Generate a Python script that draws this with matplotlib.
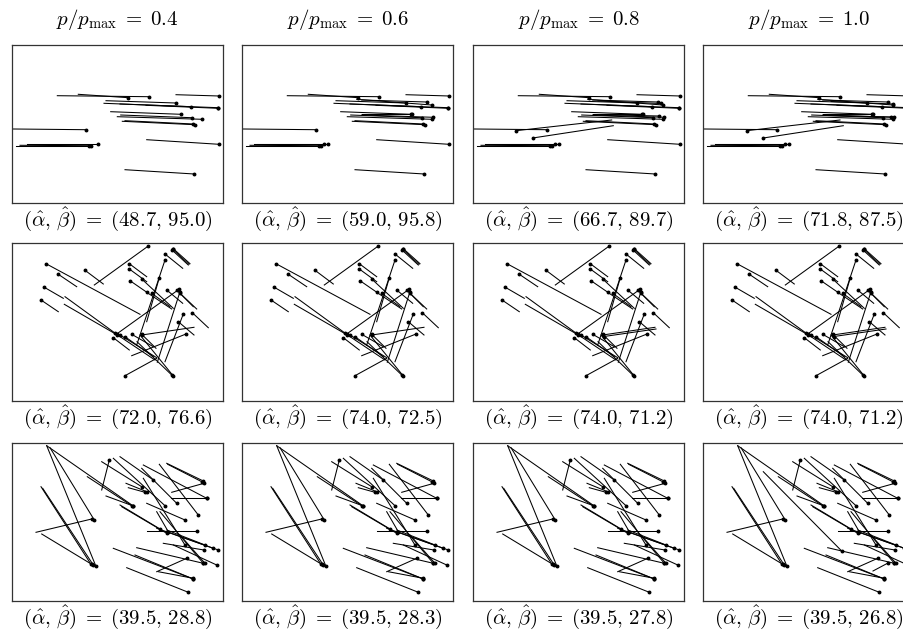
"""
Grid of trajectory panels: segment start -> end (dot), per pressure level
"""

import matplotlib
matplotlib.use('Agg')
import matplotlib.pyplot as plt

plt.rcParams['mathtext.fontset'] = 'cm'

p_levels = ['0.4', '0.6', '0.8', '1.0']

# (x0, y0, x1, y1) in panel pixel units, end point carries the dot
row1_base = [
    (45.3, 50.7, 137.0, 51.7), (66.3, 49.3, 116.3, 52.7), (164.0, 49.7, 207.3, 51.0),
    (94.0, 55.7, 164.0, 58.0), (92.0, 58.3, 179.0, 61.7), (108.0, 59.0, 206.3, 62.7),
    (134.0, 60.3, 206.3, 63.3), (98.7, 66.7, 169.0, 69.3), (108.7, 70.0, 179.7, 72.7),
    (105.3, 71.7, 190.3, 74.3), (110.3, 76.3, 183.0, 79.7), (113.0, 75.7, 181.3, 79.0),
    (1.3, 84.0, 74.0, 84.7), (14.7, 99.0, 85.7, 99.0), (3.7, 101.0, 77.3, 101.0),
    (8.0, 100.3, 78.7, 100.7), (134.7, 94.7, 207.0, 99.3), (113.0, 124.7, 182.3, 129.0),
]
row1_extra_06 = [
    (119.7, 55.0, 184.7, 57.0), (114.7, 54.3, 189.7, 60.0), (119.7, 69.0, 169.7, 69.0),
    (119.7, 70.0, 191.3, 72.3), (12.0, 99.5, 82.3, 99.5),
]
row1_extra_08 = [
    (125.0, 56.0, 188.0, 58.5), (122.0, 69.5, 186.0, 71.0),
    (138.7, 75.0, 43.0, 85.7), (140.3, 80.7, 59.7, 93.0),
]
row1_extra_10 = [
    (128.0, 56.5, 190.0, 59.0), (125.0, 70.5, 188.0, 72.0),
    (137.0, 75.0, 43.7, 85.7), (140.3, 80.7, 60.3, 93.0),
]

row2_base = [
    (128.0, 71.3, 34.0, 20.7), (64.7, 43.7, 46.3, 31.3), (91.3, 41.0, 73.0, 27.3),
    (82.3, 42.0, 136.3, 3.0), (134.7, 33.7, 117.3, 20.7), (170.7, 25.3, 153.0, 11.0),
    (176.3, 22.0, 160.0, 7.0), (178.0, 20.7, 161.3, 5.7), (177.0, 21.3, 160.7, 6.3),
    (134.7, 38.7, 117.3, 26.0), (136.3, 50.3, 118.0, 37.7), (161.3, 65.3, 129.7, 36.0),
    (159.7, 66.0, 134.7, 49.3), (158.0, 63.7, 139.7, 50.3), (51.3, 55.3, 32.3, 44.3),
    (46.3, 68.7, 29.0, 57.0), (53.0, 53.7, 104.7, 91.3), (52.3, 61.3, 105.3, 92.0),
    (104.7, 91.0, 167.0, 46.3), (124.7, 102.0, 153.0, 17.0), (134.7, 78.7, 147.3, 34.7),
    (145.3, 119.3, 168.0, 48.7), (153.0, 118.7, 171.3, 71.0), (144.7, 115.3, 113.0, 132.7),
    (143.0, 117.0, 103.0, 90.3), (144.7, 114.7, 108.0, 92.0), (141.3, 113.7, 113.0, 93.7),
    (128.0, 92.0, 161.3, 133.0), (125.0, 98.7, 159.7, 132.0), (182.0, 84.3, 129.7, 92.0),
    (119.7, 112.7, 174.0, 91.0), (182.0, 92.0, 166.3, 78.7), (196.3, 84.7, 180.3, 69.7),
    (170.7, 60.3, 154.7, 47.0), (184.7, 66.0, 168.0, 50.3), (181.3, 63.7, 164.7, 47.0),
    (117.3, 107.0, 101.3, 94.7), (144.0, 105.3, 129.7, 91.3), (141.3, 103.7, 119.7, 91.3),
]
row2_extra = [(183.0, 86.0, 131.0, 93.5)]

row3_base = [
    (34.7, 2.7, 83.7, 122.7), (38.0, 4.7, 82.3, 77.0), (34.7, 2.7, 121.3, 63.0),
    (75.3, 33.7, 119.7, 62.7), (29.0, 43.7, 79.0, 121.3), (30.7, 45.3, 81.3, 122.0),
    (24.0, 89.3, 79.7, 76.0), (29.7, 91.0, 79.7, 121.3), (89.7, 47.0, 97.3, 17.0),
    (89.7, 18.7, 129.7, 43.7), (101.3, 15.3, 153.0, 62.7), (108.0, 13.7, 141.3, 37.0),
    (114.0, 40.3, 134.7, 48.7), (116.3, 44.7, 133.0, 49.3), (94.0, 53.0, 121.3, 63.0),
    (109.7, 63.7, 154.7, 90.3), (108.0, 62.0, 148.0, 86.0), (154.7, 20.3, 191.3, 38.0),
    (155.7, 21.3, 189.7, 38.7), (147.3, 21.3, 186.3, 72.0), (129.7, 25.3, 164.7, 60.3),
    (131.3, 22.0, 194.7, 55.3), (131.3, 35.3, 173.0, 102.0), (158.7, 55.3, 194.7, 55.3),
    (159.7, 49.3, 192.0, 40.3), (134.7, 60.3, 173.0, 77.0), (134.7, 88.0, 184.7, 88.0),
    (144.7, 68.7, 156.3, 88.7), (144.7, 85.3, 206.3, 107.0), (154.7, 88.7, 201.3, 105.3),
    (154.7, 87.0, 193.0, 102.0), (151.3, 100.3, 192.0, 107.0), (124.7, 104.7, 191.3, 120.3),
    (101.3, 105.3, 181.3, 136.0), (123.0, 112.0, 181.3, 136.0), (114.7, 124.7, 176.3, 149.3),
    (144.7, 128.7, 174.7, 115.3), (146.3, 128.7, 181.3, 135.3), (161.3, 102.0, 204.7, 122.0),
    (168.0, 92.0, 193.0, 120.3), (148.0, 68.7, 191.3, 120.3),
]
row3_extra_10 = [(60.3, 28.7, 138.7, 108.0), (170.0, 128.0, 185.0, 120.0)]

panels = [
    [row1_base, row1_base + row1_extra_06, row1_base + row1_extra_06 + row1_extra_08,
     row1_base + row1_extra_06 + row1_extra_10],
    [row2_base, row2_base, row2_base + row2_extra, row2_base + row2_extra],
    [row3_base, row3_base, row3_base, row3_base + row3_extra_10],
]

estimates = [
    [('48.7', '95.0'), ('59.0', '95.8'), ('66.7', '89.7'), ('71.8', '87.5')],
    [('72.0', '76.6'), ('74.0', '72.5'), ('74.0', '71.2'), ('74.0', '71.2')],
    [('39.5', '28.8'), ('39.5', '28.3'), ('39.5', '27.8'), ('39.5', '26.8')],
]

W, H = 904, 633
col_left = [12, 242, 473, 703]
row_top = [45, 243, 443]
ax_w, ax_h = 211, 158

fig = plt.figure(figsize=(W / 100, H / 100), dpi=100)

for r in range(3):
    for c in range(4):
        ax = fig.add_axes([col_left[c] / W, 1 - (row_top[r] + ax_h) / H, ax_w / W, ax_h / H])
        for x0, y0, x1, y1 in panels[r][c]:
            ax.plot([x0, x1], [y0, y1], color='black', lw=0.75)
            ax.plot(x1, y1, 'o', color='black', ms=1.8)
        ax.set_xlim(0, ax_w)
        ax.set_ylim(ax_h, 0)
        ax.set_xticks([])
        ax.set_yticks([])
        for s in ax.spines.values():
            s.set_color('#333333')
            s.set_linewidth(0.9)
        if r == 0:
            ax.text(0.5, 1 + 25 / ax_h, r'$p/p_{\mathrm{max}}\;=\;%s$' % p_levels[c],
                    transform=ax.transAxes, ha='center', va='center', fontsize=15)
        a, b = estimates[r][c]
        ax.text(0.5, -16 / ax_h, r'$(\hat{\alpha},\,\hat{\beta})\;=\;(%s,\,%s)$' % (a, b),
                transform=ax.transAxes, ha='center', va='center', fontsize=15)

fig.savefig('out.png', dpi=100)
